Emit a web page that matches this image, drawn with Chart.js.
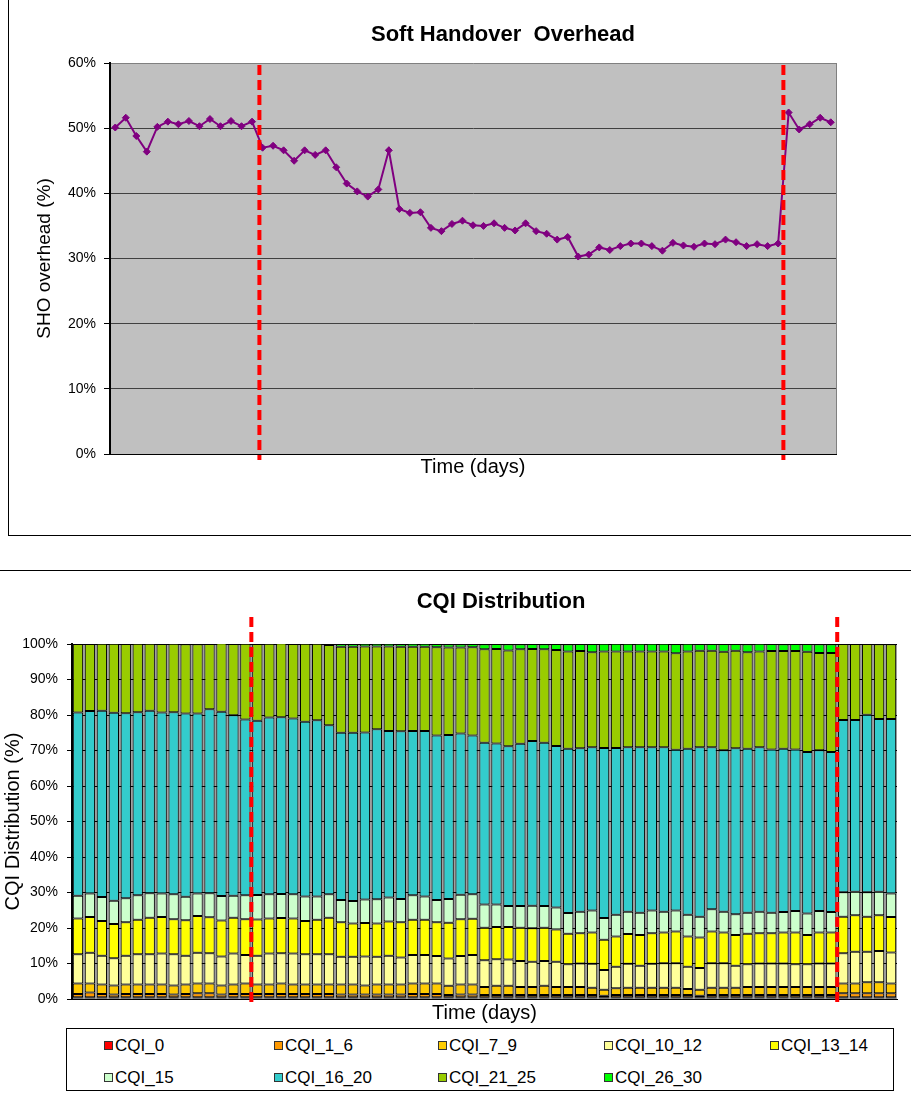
<!DOCTYPE html>
<html>
<head>
<meta charset="utf-8">
<script src="https://cdn.jsdelivr.net/npm/chart.js@4.4.1/dist/chart.umd.min.js"></script>
<style>
  html, body { margin: 0; padding: 0; background: #fff; overflow: hidden; }
  body { width: 911px; height: 1095px; position: relative; font-family: "Liberation Sans", Arial, sans-serif; }
  #boxTop { position: absolute; left: 8px; top: 0; width: 903px; height: 535px; border-left: 1px solid #000; border-bottom: 1px solid #000; }
  #boxBottom { position: absolute; left: 0; top: 570px; width: 911px; height: 525px; border-top: 1px solid #000; }
  #cqiLegend { position: absolute; left: 66px; top: 1028px; width: 826px; height: 61px; border: 1px solid #000; background: #fff; }
  .lg-item { position: absolute; height: 20px; line-height: 20px; font-size: 17px; color: #000; white-space: nowrap; }
  .lg-item span.sw { display: inline-block; width: 7px; height: 7px; border: 1px solid #333; margin-right: 2px; vertical-align: 1px; }
</style>
</head>
<body>
<div id="boxTop"><canvas id="sho_chart" width="902" height="535"></canvas></div>
<div id="boxBottom"><canvas id="cqi_chart" width="911" height="524"></canvas></div>
<div id="cqiLegend"></div>
<script>
// SHO overhead per day (%)
var shoOverhead = [50.1, 51.6, 48.8, 46.4, 50.2, 51.0, 50.6, 51.1, 50.3, 51.4, 50.3, 51.1, 50.3, 51.0,
    47.0, 47.3, 46.6, 45.0, 46.6, 45.9, 46.6, 44.0, 41.5, 40.3, 39.5, 40.6,
    46.6, 37.6, 37.0, 37.1, 34.7, 34.2, 35.3, 35.8, 35.1, 35.0, 35.4, 34.7, 34.3, 35.4, 34.2, 33.8, 32.9, 33.3,
    30.3, 30.6, 31.7, 31.3, 31.9, 32.3, 32.3, 31.9, 31.2, 32.4, 32.0, 31.8, 32.3, 32.2, 32.9, 32.5, 31.9, 32.2, 31.9, 32.3,
    52.4, 49.8, 50.6, 51.6, 50.9];

// CQI distribution per day (%), one array per CQI band
var cqi_0 = [0.5, 0.5, 0.5, 0.5, 0.5, 0.5, 0.5, 0.5, 0.5, 0.5, 0.5, 0.5, 0.5, 0.5,
    0.5, 0.5, 0.5, 0.5, 0.5, 0.5, 0.5, 0.5, 0.5, 0.5, 0.5, 0.5, 0.5, 0.5,
    0.5, 0.5, 0.5, 0.5, 0.5, 0.5, 0.5, 0.5, 0.5, 0.5, 0.5, 0.5, 0.5, 0.5,
    0.5, 0.5, 0.5, 0.5, 0.5, 0.5, 0.5, 0.5, 0.5, 0.5, 0.5, 0.5, 0.5, 0.5,
    0.5, 0.5, 0.5, 0.5, 0.5, 0.5, 0.5, 0.5, 0.5, 0.5, 0.5, 0.5, 0.5];
var cqi_1_6 = [0.9, 1.3, 0.9, 0.8, 0.9, 0.9, 0.9, 0.9, 0.8, 0.9, 1.1, 1.1, 0.8, 0.9,
    0.9, 0.9, 0.9, 0.9, 0.9, 0.9, 0.9, 0.9, 0.8, 0.8, 0.8, 0.8, 0.8, 0.8,
    0.9, 0.9, 0.9, 0.6, 0.8, 0.8, 0.6, 0.6, 0.6, 0.6, 0.6, 0.6, 0.6, 0.6,
    0.6, 0.6, 0.4, 0.6, 0.6, 0.6, 0.6, 0.6, 0.6, 0.6, 0.4, 0.6, 0.6, 0.6,
    0.6, 0.6, 0.6, 0.6, 0.6, 0.6, 0.6, 0.6, 1.1, 1.1, 1.1, 1.1, 1.1];
var cqi_7_9 = [3.0, 2.6, 2.7, 2.5, 2.7, 2.7, 2.7, 2.7, 2.5, 2.7, 2.8, 2.8, 2.5, 2.7,
    3.0, 2.7, 2.7, 3.0, 2.7, 2.7, 2.7, 2.7, 2.8, 2.8, 2.5, 2.8, 2.8, 2.8,
    3.0, 3.0, 3.0, 2.6, 2.8, 2.8, 2.3, 2.6, 2.6, 2.3, 2.3, 2.6, 2.3, 2.3,
    2.3, 2.1, 1.7, 1.9, 2.1, 2.1, 2.1, 2.1, 2.1, 1.7, 1.7, 2.1, 2.1, 2.1,
    2.3, 2.3, 2.3, 2.3, 2.3, 2.3, 2.3, 2.3, 2.8, 2.8, 3.1, 3.1, 2.8];
var cqi_10_12 = [8.2, 8.6, 8.1, 7.7, 8.1, 8.5, 8.5, 8.7, 8.8, 8.1, 8.6, 8.5, 8.2, 8.7,
    8.0, 8.1, 8.7, 8.5, 8.7, 8.5, 8.5, 8.5, 7.8, 7.8, 8.2, 7.8, 8.1, 7.6,
    8.0, 8.0, 7.7, 7.7, 8.0, 8.3, 7.5, 7.5, 7.4, 7.3, 7.1, 7.0, 7.1, 6.4,
    6.6, 6.7, 5.6, 6.1, 6.7, 6.2, 6.7, 6.9, 6.9, 6.3, 6.1, 6.9, 6.9, 6.2,
    6.4, 6.6, 6.6, 6.6, 6.4, 6.4, 6.6, 6.6, 8.5, 8.9, 8.6, 8.8, 8.7];
var cqi_13_14 = [10.1, 10.1, 9.8, 9.6, 9.4, 9.7, 10.3, 10.3, 9.9, 10.0, 10.4, 10.1, 10.1, 10.1,
    10.1, 10.2, 9.9, 9.9, 9.9, 9.4, 9.7, 10.3, 9.7, 9.4, 9.4, 9.4, 9.6, 9.9,
    9.9, 9.9, 9.5, 10.1, 10.4, 10.2, 9.2, 9.1, 9.2, 9.4, 9.4, 9.4, 9.1, 8.6,
    8.5, 8.8, 8.5, 8.5, 8.4, 8.6, 8.6, 8.6, 8.9, 8.5, 8.6, 8.9, 8.6, 8.6,
    8.6, 8.5, 8.5, 8.7, 8.9, 8.2, 8.7, 8.7, 10.3, 10.3, 9.9, 10.1, 10.0];
var cqi_15 = [6.4, 6.6, 6.7, 6.6, 6.8, 6.9, 6.9, 6.6, 7.0, 6.6, 6.3, 6.8, 6.9, 6.2,
    6.7, 6.9, 6.8, 6.8, 6.8, 6.9, 6.6, 6.6, 6.3, 6.3, 6.6, 6.8, 6.8, 6.6,
    6.9, 6.6, 6.3, 6.7, 6.9, 6.9, 6.5, 6.3, 5.9, 6.1, 6.4, 6.1, 6.2, 5.8,
    6.1, 6.2, 6.1, 6.1, 6.3, 6.3, 6.4, 5.9, 5.9, 6.1, 5.9, 6.3, 5.9, 5.9,
    5.9, 6.1, 5.8, 5.8, 6.1, 6.1, 6.1, 5.8, 6.9, 6.6, 6.9, 6.6, 6.6];
var cqi_16_20 = [51.6, 51.4, 52.5, 52.9, 52.1, 51.6, 51.4, 51.0, 51.3, 51.6, 50.7, 51.8, 51.9, 50.8,
    49.5, 49.1, 49.8, 49.8, 49.5, 49.2, 49.6, 47.6, 47.1, 47.4, 47.1, 47.9, 46.9, 47.2,
    46.3, 46.6, 46.3, 46.2, 45.4, 44.7, 45.6, 45.4, 45.0, 45.7, 46.4, 46.0, 45.5, 46.3,
    46.0, 46.0, 47.9, 47.0, 46.3, 46.6, 46.0, 46.3, 45.3, 46.8, 47.7, 45.6, 45.5, 46.7,
    46.2, 46.3, 46.0, 46.0, 45.5, 45.5, 45.3, 45.1, 48.5, 48.4, 50.0, 48.7, 49.2];
var cqi_21_25 = [19.3, 18.9, 18.9, 19.5, 19.5, 19.3, 18.9, 19.3, 19.3, 19.5, 19.5, 18.4, 19.3, 20.1,
    21.4, 21.6, 20.8, 20.8, 21.0, 22.0, 21.6, 22.6, 24.2, 24.2, 24.2, 23.3, 23.8, 23.8,
    23.7, 23.7, 24.9, 24.6, 24.2, 24.9, 26.3, 26.6, 27.0, 26.6, 25.9, 26.3, 27.0, 27.4,
    27.4, 26.8, 27.2, 27.2, 27.0, 27.0, 27.0, 27.0, 27.2, 27.4, 27.2, 27.2, 27.7, 27.5,
    27.2, 27.0, 27.7, 27.5, 27.7, 28.2, 27.4, 27.9, 21.4, 21.4, 19.9, 21.0, 21.0];
var cqi_26_30 = [0, 0, 0, 0, 0, 0, 0, 0, 0, 0, 0, 0, 0, 0,
    0, 0, 0, 0, 0, 0, 0, 0.3, 0.8, 0.8, 0.8, 0.8, 0.8, 0.8,
    0.9, 0.9, 0.9, 0.9, 0.9, 0.9, 1.4, 1.4, 1.7, 1.4, 1.4, 1.4, 1.7, 2.0,
    2.0, 2.3, 2.2, 2.2, 2.2, 2.2, 2.2, 2.2, 2.6, 2.2, 1.9, 1.9, 2.2, 1.9,
    2.2, 2.2, 2.0, 1.9, 2.0, 2.2, 2.4, 2.4, 0, 0, 0, 0, 0];

var cqiNames = ['CQI_0', 'CQI_1_6', 'CQI_7_9', 'CQI_10_12', 'CQI_13_14', 'CQI_15', 'CQI_16_20', 'CQI_21_25', 'CQI_26_30'];
var cqiColors = ['#FF0000', '#FF9900', '#FFCC00', '#FFFF99', '#FFFF00', '#CCFFCC', '#33CCCC', '#99CC00', '#00FF00'];
var cqiSeries = [cqi_0, cqi_1_6, cqi_7_9, cqi_10_12, cqi_13_14, cqi_15, cqi_16_20, cqi_21_25, cqi_26_30];

// days on the x axis (not labelled in the picture)
var days = [];
for (var i = 1; i <= shoOverhead.length; i++) days.push(i);

// where the red dashed markers sit (category index)
var shoMarkers = [13.7, 63.5];
var cqiMarkers = [14.5, 63.5];

var FONT = '"Liberation Sans", Arial, sans-serif';
Chart.defaults.font.family = FONT;
Chart.defaults.color = '#000';

var plotBg = {
    id: 'plotBg',
    beforeDraw: function(chart, args, opts){
        var a = chart.chartArea, ctx = chart.ctx;
        ctx.save();
        ctx.fillStyle = opts.color;
        ctx.fillRect(a.left, a.top, a.right - a.left, a.bottom - a.top);
        if (opts.edge) {
            ctx.strokeStyle = opts.edge;
            ctx.lineWidth = 1;
            ctx.beginPath();
            ctx.moveTo(a.right + 0.5, a.top);
            ctx.lineTo(a.right + 0.5, a.bottom);
            ctx.stroke();
        }
        ctx.restore();
    }
};

var markerLines = {
    id: 'markerLines',
    afterDatasetsDraw: function(chart, args, opts){
        var ctx = chart.ctx, xs = chart.scales.x;
        ctx.save();
        ctx.strokeStyle = '#FF0000';
        ctx.lineWidth = 4;
        ctx.setLineDash([10, 5]);
        opts.at.forEach(function(v){
            var x = xs.getPixelForValue(v);
            ctx.beginPath();
            ctx.moveTo(x, opts.y0);
            ctx.lineTo(x, opts.y1);
            ctx.stroke();
        });
        ctx.restore();
    }
};

var chartTitle = {
    id: 'chartTitle',
    afterDraw: function(chart, args, opts){
        var ctx = chart.ctx;
        ctx.save();
        ctx.font = 'bold ' + opts.size + 'px ' + FONT;
        ctx.fillStyle = '#000';
        ctx.textAlign = 'center';
        ctx.textBaseline = 'middle';
        ctx.fillText(opts.text, opts.x, opts.y);
        ctx.restore();
    }
};

// ---- Soft handover overhead ----
new Chart(document.getElementById('sho_chart').getContext('2d'), {
    type: 'line',
    data: {
        labels: days,
        datasets: [{
            label: 'SHO overhead',
            data: shoOverhead,
            borderColor: '#800080',
            backgroundColor: '#800080',
            borderWidth: 2,
            pointStyle: 'rectRot',
            pointRadius: 3.5,
            pointBorderWidth: 1,
            tension: 0
        }]
    },
    options: {
        responsive: false,
        animation: false,
        layout: { padding: { left: 0, right: 75, top: 63, bottom: 56 } },
        plugins: {
            legend: { display: false },
            tooltip: { enabled: false },
            plotBg: { color: '#C0C0C0', edge: '#808080' },
            markerLines: { at: shoMarkers, y0: 65, y1: 460 },
            chartTitle: { text: 'Soft Handover  Overhead', x: 494, y: 35, size: 22 }
        },
        scales: {
            x: {
                offset: true,
                grid: { display: false, offset: true },
                border: { display: true, color: '#000', width: 1 },
                ticks: { display: false },
                title: { display: true, text: 'Time (days)', font: { size: 20 }, padding: 0 },
                afterFit: function(s){ s.height = 25; }
            },
            y: {
                min: 0, max: 60,
                ticks: { stepSize: 10, padding: 8, font: { size: 14 }, callback: function(v){ return v + '%'; } },
                grid: {
                    color: function(c){ return c.tick && c.tick.value === 60 ? '#808080' : '#404040'; },
                    tickColor: '#000', tickLength: 6, lineWidth: 1
                },
                border: { display: true, color: '#000', width: 2 },
                title: { display: true, text: 'SHO overhead (%)', font: { size: 19 }, padding: { top: 24, bottom: 0 } },
                afterFit: function(s){ s.width = 101; }
            }
        }
    },
    plugins: [plotBg, markerLines, chartTitle]
});

// ---- CQI distribution ----
var cqiDatasets = [];
for (var k = 0; k < cqiNames.length; k++) {
    cqiDatasets.push({
        label: cqiNames[k],
        data: cqiSeries[k],
        backgroundColor: cqiColors[k],
        borderColor: '#000',
        borderWidth: 1,
        borderSkipped: false,
        barPercentage: 0.86,
        categoryPercentage: 1.0
    });
}

var cqiChart = new Chart(document.getElementById('cqi_chart').getContext('2d'), {
    type: 'bar',
    data: { labels: days, datasets: cqiDatasets },
    options: {
        responsive: false,
        animation: false,
        layout: { padding: { left: 0, right: 14, top: 73, bottom: 70 } },
        plugins: {
            legend: { display: false },
            tooltip: { enabled: false },
            plotBg: { color: '#A0A0A0' },
            markerLines: { at: cqiMarkers, y0: 46, y1: 433 },
            chartTitle: { text: 'CQI Distribution', x: 501, y: 31, size: 22 }
        },
        scales: {
            x: {
                stacked: true,
                grid: { display: false },
                border: { display: true, color: '#000', width: 1 },
                ticks: { display: false },
                title: { display: true, text: 'Time (days)', font: { size: 20 }, padding: 0 },
                afterFit: function(s){ s.height = 26; }
            },
            y: {
                stacked: true,
                min: 0, max: 100,
                ticks: { stepSize: 10, padding: 9, font: { size: 14 }, callback: function(v){ return v + '%'; } },
                grid: { color: '#000', tickColor: '#000', tickLength: 5, lineWidth: 1 },
                border: { display: true, color: '#000', width: 2 },
                title: { display: true, text: 'CQI Distribution (%)', font: { size: 20 }, padding: { top: 1, bottom: 0 } },
                afterFit: function(s){ s.width = 72; }
            }
        }
    },
    plugins: [plotBg, markerLines, chartTitle]
});

// legend box under the bar chart, built from the datasets
var lg = document.getElementById('cqiLegend');
var colX = [37, 207, 371, 537, 703];
cqiChart.data.datasets.forEach(function(ds, n){
    var item = document.createElement('div');
    item.className = 'lg-item';
    item.style.left = colX[n % 5] + 'px';
    item.style.top = (n < 5 ? 7 : 39) + 'px';
    item.innerHTML = '<span class="sw" style="background:' + ds.backgroundColor + '"></span>' + ds.label;
    lg.appendChild(item);
});
</script>
</body>
</html>
